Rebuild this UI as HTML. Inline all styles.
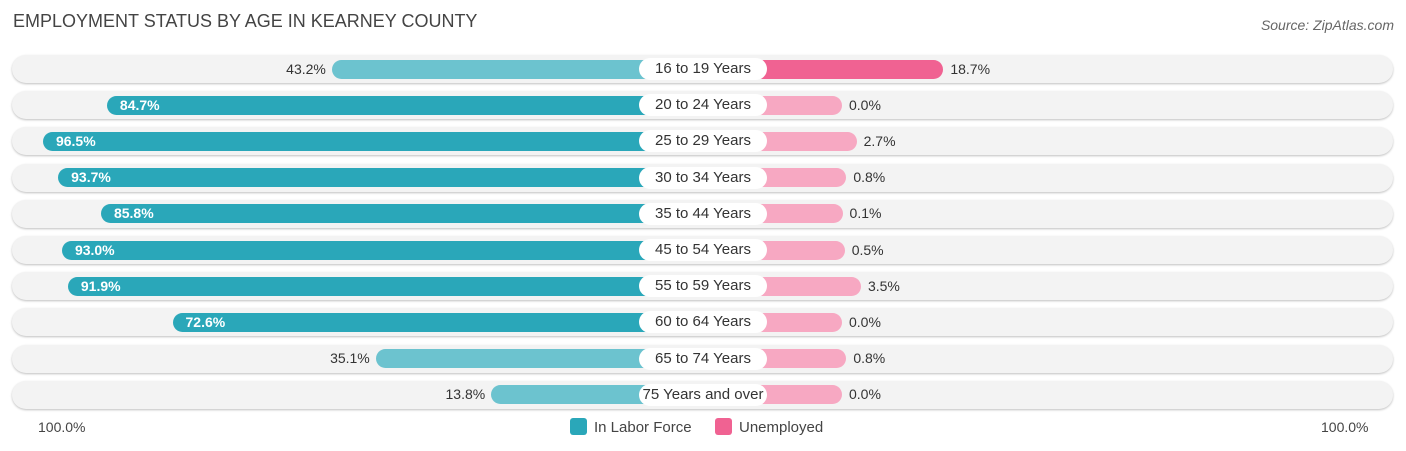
<!DOCTYPE html>
<html><head><meta charset="utf-8"><style>
body{margin:0;width:1406px;height:451px;background:#fff;font-family:"Liberation Sans",sans-serif;position:relative;overflow:hidden}
.t{position:absolute;left:13px;top:11px;font-size:18px;color:#444}
.src{position:absolute;right:12px;top:17px;font-size:14px;color:#666;font-style:italic}
.row{position:absolute;left:12px;width:1381px;height:28px;border-radius:14px;background:#f3f3f3;box-shadow:0 1px 2px rgba(0,0,0,.25)}
.bar{position:absolute;height:19px;border-radius:10px}
.lbl{position:absolute;left:639px;width:128px;height:22px;border-radius:11px;background:#fff;text-align:center;font-size:15px;line-height:22px;color:#333}
.v{position:absolute;font-size:14px;line-height:19px}
.ax{position:absolute;top:419px;font-size:14px;color:#444}
.lg{position:absolute;top:418px;font-size:15px;color:#444}
.sw{display:inline-block;width:17px;height:17px;border-radius:3px;vertical-align:-3px;margin-right:7px}
</style></head><body>
<div class="t">EMPLOYMENT STATUS BY AGE IN KEARNEY COUNTY</div>
<div class="src">Source: ZipAtlas.com</div>
<div id="rows"></div>
<div class="ax" style="left:38px">100.0%</div>
<div class="ax" style="left:1321px">100.0%</div>
<div class="lg" style="left:570px"><span class="sw" style="background:#2aa7b9"></span>In Labor Force</div>
<div class="lg" style="left:715px"><span class="sw" style="background:#f06292"></span>Unemployed</div>
<script>
const categories=["16 to 19 Years","20 to 24 Years","25 to 29 Years","30 to 34 Years","35 to 44 Years","45 to 54 Years","55 to 59 Years","60 to 64 Years","65 to 74 Years","75 Years and over"];
const laborForce=[43.2,84.7,96.5,93.7,85.8,93.0,91.9,72.6,35.1,13.8];
const unemployed=[18.7,0.0,2.7,0.8,0.1,0.5,3.5,0.0,0.8,0.0];
const L0=566,R0=840,S=5.42;
function xl(v){return L0-v*S;}
function xr(v){return R0+v*S;}
const c=document.getElementById('rows');
categories.forEach((cat,i)=>{
  const cy=69+i*36.2;
  const row=document.createElement('div');row.className='row';row.style.top=(cy-14)+'px';
  
  
  c.appendChild(row);
  const lv=laborForce[i],uv=unemployed[i];
  const b=document.createElement('div');b.className='bar';
  const x=xl(lv);b.style.left=x+'px';b.style.width=(703-x)+'px';b.style.top=(cy-9.5)+'px';
  b.style.background=lv>60?'#2aa7b9':'#6cc3cf';
  
  
  c.appendChild(b);
  const lt=document.createElement('div');lt.className='v';lt.textContent=lv.toFixed(1)+'%';lt.style.top=(cy-9.5)+'px';
  if(lv>60){lt.style.left=(x+13)+'px';lt.style.color='#fff';lt.style.fontWeight='bold';}
  else{lt.style.right=(1406-x+6)+'px';lt.style.color='#333';}
  
  
  c.appendChild(lt);
  const r=document.createElement('div');r.className='bar';
  const xe=xr(uv)+2;r.style.left='703px';r.style.width=(xe-703)+'px';r.style.top=(cy-9.5)+'px';
  r.style.background=uv>10?'#f06292':'#f7a8c2';
  
  
  c.appendChild(r);
  const rt=document.createElement('div');rt.className='v';rt.textContent=uv.toFixed(1)+'%';rt.style.top=(cy-9.5)+'px';rt.style.left=(xe+7)+'px';rt.style.color='#333';
  
  
  c.appendChild(rt);
  const lb=document.createElement('div');lb.className='lbl';lb.textContent=cat;lb.style.top=(cy-11)+'px';
  
  
  c.appendChild(lb);
});
</script>
</body></html>
